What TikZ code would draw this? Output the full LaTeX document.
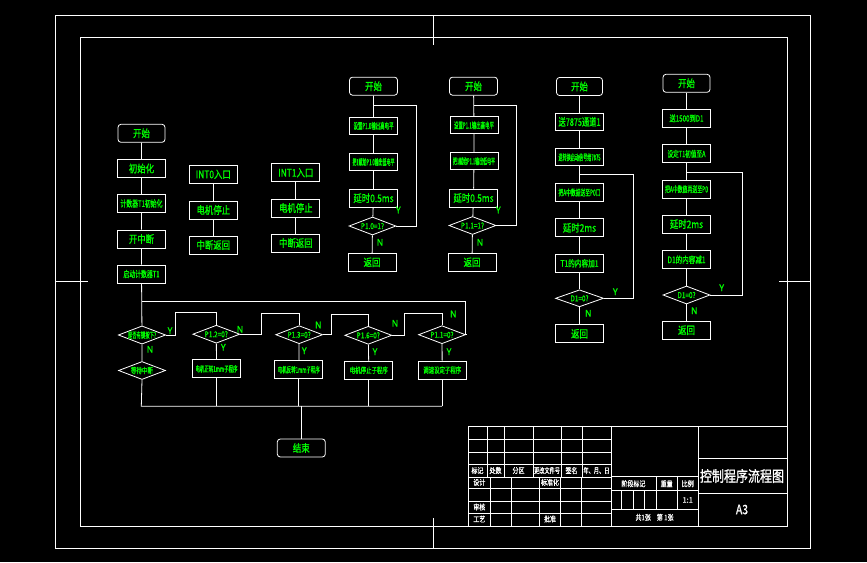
\documentclass[tikz,border=0pt]{standalone}
\usepackage{fontspec}
\setmainfont{Noto Sans CJK SC}[FakeBold=1.2]
\usetikzlibrary{shapes.geometric}
\definecolor{cadgreen}{RGB}{0,255,0}
\newcommand\sw[1]{\scalebox{0.8}[1]{#1}}
\newcommand\lw[2][40pt]{\resizebox{#1}{\height}{#2}}
\begin{document}
\begin{tikzpicture}[x=1pt,y=-1pt,
  ln/.style={draw=white,line width=0.8pt},
  box/.style={draw=white,line width=0.8pt,text=cadgreen,inner sep=0pt,
    minimum width=48pt,minimum height=18pt,font=\fontsize{10.5}{10.5}\selectfont},
  term/.style={box,rounded corners=3pt},
  dec/.style={diamond,draw=white,line width=0.8pt,text=cadgreen,inner sep=0pt,
    minimum width=47pt,minimum height=18pt,aspect=2.6,font=\fontsize{8}{8}\selectfont},
  yn/.style={text=cadgreen,inner sep=0pt,font=\fontsize{9}{9}\selectfont},
  tb/.style={text=white,inner sep=0pt,font=\fontsize{7.5}{7.5}\selectfont},
]
\useasboundingbox (0,0) rectangle (867,562);
\fill[black] (0,0) rectangle (867,562);

% ---------- frame ----------
\draw[white,line width=1pt] (55,15) rectangle (810,548);
\draw[white,line width=0.8pt] (80,37) rectangle (787,526);
\draw[white,line width=0.8pt] (433,15) -- (433,45) (433,518) -- (433,548)
  (55,281) -- (88,281) (779,281) -- (810,281);

% ---------- title block ----------
\begin{scope}[white,line width=0.7pt]
\draw (468,426) -- (787,426) (468,426) -- (468,526);
\draw (611,426) -- (611,526) (698,426) -- (698,526);
\foreach \yy in {439,452,464,477,488,501,513} \draw (468,\yy) -- (611,\yy);
\foreach \xx in {487,504,533,561,582} \draw (\xx,426) -- (\xx,477);
\foreach \xx in {490.7,511.7,539.3,560.7,581.7} \draw (\xx,477) -- (\xx,526);
\draw (611,476.7) -- (698,476.7) (611,490.7) -- (698,490.7) (611,509.3) -- (698,509.3);
\draw (656,476.7) -- (656,509.3) (677.3,476.7) -- (677.3,509.3);
\foreach \xx in {621.7,633.3,644.3} \draw (\xx,490.7) -- (\xx,509.3);
\draw (698,458.3) -- (787,458.3) (698,493.3) -- (787,493.3);
\end{scope}
\node[tb] (tb1) at (477.5,470.5) {\sw{标记}};
\node[tb] (tb2) at (495.5,470.5) {\sw{处数}};
\node[tb] (tb3) at (518.5,470.5) {\sw{分区}};
\node[tb] (tb4) at (547,470.5) {\lw[26pt]{更改文件号}};
\node[tb] (tb5) at (571.5,470.5) {\sw{签名}};
\node[tb] (tb6) at (596.5,470.5) {\lw[26pt]{年、月、日}};
\node[tb] (tb7) at (479.3,482.3) {\sw{设计}};
\node[tb] (tb8) at (550,482.3) {\sw{标准化}};
\node[tb] (tb9) at (479.3,507) {\sw{审核}};
\node[tb] (tb10) at (479.3,519) {\sw{工艺}};
\node[tb] (tb11) at (550,519) {\sw{批准}};
\node[tb] (tb12) at (633.5,483.7) {\sw{阶段标记}};
\node[tb] (tb13) at (666.7,483.7) {\sw{重量}};
\node[tb] (tb14) at (687.7,483.7) {\sw{比例}};
\node[tb] (tb15) at (687.7,500) {1:1};
\node[tb] (tb16) at (654.5,517.3) {\sw{共1张\quad 第\ 1张}};
\node[tb,font=\fontsize{15}{15}\selectfont] (tb17) at (742,476) {\scalebox{0.8}[1]{控制程序流程图}};
\node[tb,font=\fontsize{13}{13}\selectfont] (tb18) at (742,509.5) {\scalebox{0.8}[1]{A3}};

% ---------- main flowchart ----------
\node[term,minimum width=47pt] (m0) at (141.5,133.3) {\sw{开始}};
\node[box] (m1) at (141.5,168.5) {\sw{初始化}};
\node[box] (m2) at (141.5,203.5) {\lw[42pt]{\fontsize{9}{9}\selectfont 计数器T1初始化}};
\node[box] (m3) at (141.5,239) {\sw{开中断}};
\node[box] (m4) at (141.5,274) {\lw[36pt]{\fontsize{9}{9}\selectfont 启动计数器T1}};
\node[dec] (d1) at (142,335) {\lw[28pt]{是否有键按下?}};
\node[dec] (dw) at (142,370.5) {\lw[22pt]{等待中断}};
\draw[ln] (m0) -- (m1) -- (m2) -- (m3) -- (m4) -- (d1) -- (dw);

\node[dec] (d2) at (216.3,334.2) {\sw{P1.2=0?}};
\node[dec] (d3) at (299.2,334.7) {\sw{P1.3=0?}};
\node[dec] (d4) at (368.3,335.3) {\sw{P1.6=0?}};
\node[dec] (d5) at (442,334.7) {\sw{P1.1=0?}};
\node[box,font=\fontsize{8}{8}\selectfont] (p2) at (216.5,368.8) {\lw[42pt]{电机正转1mm子程序}};
\node[box,font=\fontsize{8}{8}\selectfont] (p3) at (298.8,369.7) {\lw[42pt]{电机反转1mm子程序}};
\node[box,font=\fontsize{8}{8}\selectfont] (p4) at (368.8,370.2) {\lw[38pt]{电机停止子程序}};
\node[box,font=\fontsize{8}{8}\selectfont] (p5) at (442.2,370) {\lw[38pt]{调速设定子程序}};
\node[term] (me) at (301.3,448) {\sw{结束}};

\coordinate (c12) at (175.3,312.3);
\coordinate (c23) at (261.3,313.3);
\coordinate (c34) at (331,314.3);
\coordinate (c45) at (404.3,313.3);
\coordinate (c5) at (465.7,301.3);
\coordinate (bl) at (141.3,406.3);
\coordinate (br) at (442.2,406.3);
\coordinate (bm) at (301.3,406.3);
\draw[ln] (d1.east) -| (c12) -| (d2.north);
\draw[ln] (d2.east) -| (c23) -| (d3.north);
\draw[ln] (d3.east) -| (c34) -| (d4.north);
\draw[ln] (d4.east) -| (c45) -| (d5.north);
\draw[ln] (d5.east) -| (c5) -- (m4 |- c5);
\draw[ln] (d2) -- (p2) (d3) -- (p3) (d4) -- (p4) (d5) -- (p5);
\draw[ln] (dw.south) -- (bl) -- (br);
\draw[ln] (p2.south) -- (p2 |- bl) (p3.south) -- (p3 |- bl)
  (p4.south) -- (p4 |- bl) (p5.south) -- (br);
\draw[ln] (bm) -- (me.north);

\node[yn] (y1) at (170,330.7) {Y};
\node[yn] (n1) at (150,349.3) {N};
\node[yn] (n2) at (240,329.3) {N};
\node[yn] (y2) at (223.3,347.3) {Y};
\node[yn] (n3) at (318.3,325) {N};
\node[yn] (y3) at (304.3,350.7) {Y};
\node[yn] (n4) at (395,323.3) {N};
\node[yn] (y4) at (375,351.7) {Y};
\node[yn] (n5) at (453.3,314) {N};
\node[yn] (y5) at (449,351.7) {Y};

% ---------- interrupt entries ----------
\node[box] (a1) at (213.3,174.3) {\sw{INT0入口}};
\node[box] (a2) at (213.3,210) {\sw{电机停止}};
\node[box] (a3) at (213.3,245) {\sw{中断返回}};
\draw[ln] (a1) -- (a2) -- (a3);
\node[box] (b1) at (295.8,172.7) {\sw{INT1入口}};
\node[box] (b2) at (295.8,208) {\sw{电机停止}};
\node[box] (b3) at (295.8,243) {\sw{中断返回}};
\draw[ln] (b1) -- (b2) -- (b3);

% ---------- flow 1 ----------
\node[term] (e0) at (373.5,86.2) {\sw{开始}};
\node[box,minimum height=17pt] (e1) at (373.5,125.8) {\lw[40pt]{\fontsize{8.5}{8.5}\selectfont 设置P1.0输出高电平}};
\node[box,minimum height=17pt] (e2) at (373.5,162) {\lw[42pt]{\fontsize{8.5}{8.5}\selectfont 把1赋给P1.0输出低电平}};
\node[box] (e3) at (373.5,198.2) {\sw{延时0.5ms}};
\node[dec] (e4) at (372.5,226) {\sw{P1.0=1?}};
\node[box] (e5) at (372,262.3) {\sw{返回}};
\draw[ln] (e0) -- (e1) -- (e2) -- (e3) -- (e4) -- (e5);
\coordinate (ec) at (416.3,105);
\draw[ln] (e4.east) -| (ec) -- (e0 |- ec);
\node[yn] (ey) at (398.3,210) {Y};
\node[yn] (en) at (380,242.3) {N};

% ---------- flow 2 ----------
\node[term] (f0) at (473.5,86.2) {\sw{开始}};
\node[box,minimum height=17pt] (f1) at (474,125.3) {\lw[40pt]{\fontsize{8.5}{8.5}\selectfont 设置P1.1输出高电平}};
\node[box,minimum height=17pt] (f2) at (474,161.2) {\lw[42pt]{\fontsize{8.5}{8.5}\selectfont 把1赋给P1.1输出低电平}};
\node[box] (f3) at (473.5,198) {\sw{延时0.5ms}};
\node[dec] (f4) at (472.5,225.5) {\sw{P1.1=1?}};
\node[box] (f5) at (472,262.3) {\sw{返回}};
\draw[ln] (f0) -- (f1) -- (f2) -- (f3) -- (f4) -- (f5);
\coordinate (fc) at (516.7,105);
\draw[ln] (f4.east) -| (fc) -- (f0 |- fc);
\node[yn] (fy) at (498.3,210) {Y};
\node[yn] (fn) at (480,242.3) {N};

% ---------- flow 3 ----------
\node[term,minimum width=46pt] (g0) at (579.5,86.5) {\sw{开始}};
\node[box,minimum height=17pt] (g1) at (579.5,121.8) {\lw[42pt]{送7875通道1}};
\node[box,minimum height=17pt] (g2) at (579.5,157.3) {\lw[42pt]{\fontsize{8.5}{8.5}\selectfont 送转换启动信号给7875}};
\node[box] (g3) at (579.5,192.5) {\lw[42pt]{\fontsize{8.5}{8.5}\selectfont 把A中数据送至P0口}};
\node[box] (g4) at (579.5,227.8) {\sw{延时2ms}};
\node[box] (g5) at (579.5,263.3) {\lw[38pt]{\fontsize{9}{9}\selectfont T1的内容加1}};
\node[dec,minimum width=48pt,minimum height=17pt] (g6) at (579.5,298.3) {\sw{D1=0?}};
\node[box] (g7) at (579.5,333.8) {\sw{返回}};
\draw[ln] (g0) -- (g1) -- (g2) -- (g3) -- (g4) -- (g5) -- (g6) -- (g7);
\coordinate (gc) at (633.3,174.3);
\draw[ln] (g6.east) -| (gc) -- (g0 |- gc);
\node[yn] (gy) at (615.3,291.7) {Y};
\node[yn] (gn) at (588.3,313.3) {N};

% ---------- flow 4 ----------
\node[term,minimum width=47pt] (h0) at (686.5,83.3) {\sw{开始}};
\node[box] (h1) at (686.5,118.3) {\lw[34pt]{\fontsize{8.5}{8.5}\selectfont 送1500到D1}};
\node[box] (h2) at (686.5,153.8) {\lw[38pt]{\fontsize{8.5}{8.5}\selectfont 设定T1初值至A}};
\node[box] (h3) at (686.5,189.2) {\lw[43pt]{\fontsize{8.5}{8.5}\selectfont 把A中数值再送至P0}};
\node[box] (h4) at (686.5,224.2) {\sw{延时2ms}};
\node[box] (h5) at (686.5,259.7) {\lw[38pt]{\fontsize{9}{9}\selectfont D1的内容减1}};
\node[dec] (h6) at (686.5,295) {\sw{D1=0?}};
\node[box] (h7) at (686.5,330.2) {\sw{返回}};
\draw[ln] (h0) -- (h1) -- (h2) -- (h3) -- (h4) -- (h5) -- (h6) -- (h7);
\coordinate (hc) at (742.7,172.3);
\draw[ln] (h6.east) -| (hc) -- (h0 |- hc);
\node[yn] (hy) at (721.7,287.7) {Y};
\node[yn] (hn) at (694.3,310.7) {N};
\end{tikzpicture}
\end{document}
